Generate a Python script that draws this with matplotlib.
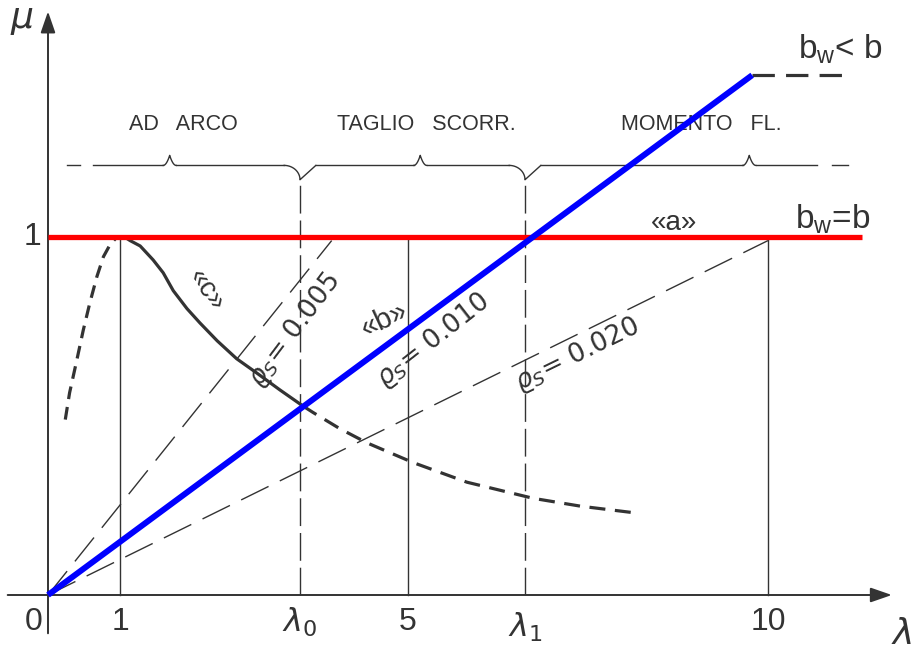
import numpy as np
import matplotlib
matplotlib.use("Agg")
import matplotlib.pyplot as plt

# ---- data (lambda, mu) ----
lam0 = 3.5
lam1 = 6.625

# curve "c": left dashed rise, solid part, dashed tail
c_left_x = [0.24, 0.30, 0.40, 0.49, 0.58, 0.68, 0.77, 0.86, 0.94, 1.0]
c_left_y = [0.49, 0.565, 0.656, 0.74, 0.815, 0.89, 0.945, 0.978, 0.996, 1.0]
c_solid_x = [1.0, 1.07, 1.14, 1.28, 1.46, 1.60, 1.74, 1.93, 2.11, 2.35,
             2.62, 2.90, 3.22, 3.54]
c_solid_y = [1.0, 0.999, 0.99, 0.975, 0.936, 0.90, 0.85, 0.80, 0.76, 0.71,
             0.66, 0.62, 0.573, 0.528]
c_tail_x = [3.54, 3.68, 4.05, 4.43, 5.07, 5.82, 6.74, 7.4, 8.13]
c_tail_y = [0.528, 0.51, 0.465, 0.425, 0.37, 0.315, 0.27, 0.248, 0.23]

# line "a" (b_w = b) and line "b" (rho_s = 0.010)
a_x = [0.0, 11.3]
a_y = [1.0, 1.0]
b_x = [0.0, 9.78]
b_y = [0.0, 1.452]
bw_less_x = [9.78, 11.1]
bw_less_y = [1.452, 1.452]

# rho_s = 0.005 and 0.020 dashed lines
r005_x = [0.0, 3.94]
r005_y = [0.0, 0.99]
r020_x = [0.0, 10.0]
r020_y = [0.0, 0.99]

# vertical reference lines
vsolid = [1.0, 5.0, 10.0]
vdash = [lam0, lam1]

xticks = [0, 1, lam0, 5, lam1, 10]
xticklabels = ["0", "1", r"$\lambda_0$", "5", r"$\lambda_1$", "10"]

# brace bar
brace_y = 1.2
cusps = [1.69, 5.17, 9.74]
joints = [lam0, lam1]
regions = ["AD   ARCO", "TAGLIO   SCORR.", "MOMENTO   FL."]
region_x = [1.88, 5.25, 9.07]

font = ["Liberation Sans Narrow", "Liberation Sans", "DejaVu Sans"]
ink = "#333333"

fig = plt.figure(figsize=(9.15, 6.5), dpi=100)
ax = fig.add_axes([0, 0, 1, 1])
ax.set_xlim(-48 / 72, 867 / 72)
ax.set_ylim(-55 / 358, 595 / 358)
ax.axis("off")

# axes arrows
ax.annotate("", xy=(11.72, 0), xytext=(-0.56, 0),
            arrowprops=dict(arrowstyle="-|>,head_length=1.3,head_width=0.45",
                            color=ink, lw=1.4, shrinkA=0, shrinkB=0))
ax.annotate("", xy=(0, 1.63), xytext=(0, -0.107),
            arrowprops=dict(arrowstyle="-|>,head_length=1.3,head_width=0.45",
                            color=ink, lw=1.4, shrinkA=0, shrinkB=0))

# vertical lines
for xv in vsolid:
    ax.plot([xv, xv], [0, 1.0], color=ink, lw=1.0)
for xv in vdash:
    ax.plot([xv, xv], [0, 1.16], color=ink, lw=1.0, dashes=(20, 5))

# rho lines
ax.plot(r005_x, r005_y, color=ink, lw=1.0, dashes=(22, 9))
ax.plot(r020_x, r020_y, color=ink, lw=1.0, dashes=(22, 9))

# curve c
ax.plot(c_left_x, c_left_y, color=ink, lw=2.3, dashes=(4, 2.5))
ax.plot(c_solid_x, c_solid_y, color=ink, lw=2.3, solid_joinstyle="round")
ax.plot(c_tail_x, c_tail_y, color=ink, lw=2.3, dashes=(5, 3))

# red and blue lines
ax.plot(a_x, a_y, color="#ff0000", lw=3.8, solid_capstyle="butt", zorder=5)
ax.plot(b_x, b_y, color="#0000ff", lw=4.3, solid_capstyle="butt", zorder=6)
ax.plot(bw_less_x, bw_less_y, color=ink, lw=2.3, dashes=(7, 3.5))

# brace bar
ax.plot([0.26, 0.44], [brace_y, brace_y], color=ink, lw=1.0)
ax.plot([10.89, 11.11], [brace_y, brace_y], color=ink, lw=1.0)
segs = [0.625] + sorted(cusps + joints) + [10.68]
kinds = ["s"] + ["c" if v in cusps else "j" for v in sorted(cusps + joints)] + ["e"]
w_c, w_j = 0.09, 0.22
for i in range(len(segs) - 1):
    x0 = segs[i] + (w_c if kinds[i] == "c" else w_j if kinds[i] == "j" else 0)
    x1 = segs[i + 1] - (w_c if kinds[i + 1] == "c" else w_j if kinds[i + 1] == "j" else 0)
    ax.plot([x0, x1], [brace_y, brace_y], color=ink, lw=1.0)
t = np.linspace(0, 1, 20)
for xc in cusps:
    xs = np.concatenate([xc - w_c + w_c * t, xc + w_c * t])
    ys = np.concatenate([brace_y + 0.028 * t ** 2, brace_y + 0.028 * (1 - t) ** 2])
    ax.plot(xs, ys, color=ink, lw=1.0)
for xj in joints:
    xs = np.concatenate([xj - w_j + w_j * np.sin(t * np.pi / 2),
                         xj + w_j * (1 - np.cos(t * np.pi / 2))])
    ys = np.concatenate([brace_y - 0.04 * (1 - np.cos(t * np.pi / 2)),
                         brace_y - 0.04 * np.cos(t * np.pi / 2)])
    ax.plot(xs, ys, color=ink, lw=1.0)

for lab, xr in zip(regions, region_x):
    ax.text(xr, 1.315, lab, ha="center", va="center", fontsize=15.5,
            family=font, color=ink)

# tick labels
for xt, lab in zip(xticks, xticklabels):
    dx = -0.2 if xt == 0 else 0
    dy = -0.09 if xt == lam1 else -0.075
    ax.text(xt + dx, dy, lab, ha="center", va="center", fontsize=23,
            family=font, color=ink)
ax.text(-0.22, 1.0, "1", ha="center", va="center", fontsize=23,
        family=font, color=ink)
ax.text(-0.36, 1.605, r"$\mu$", ha="center", va="center", fontsize=26,
        color=ink, fontweight="bold")
ax.text(11.85, -0.11, r"$\lambda$", ha="center", va="center", fontsize=26,
        color=ink)

# curve annotations
ax.text(8.7, 1.04, "«a»", ha="center", va="center", fontsize=20,
        family=font, color=ink)
ax.text(10.9, 1.05, r"b$_\mathregular{w}$=b", ha="center", va="center",
        fontsize=24, family=font, color=ink)
ax.text(11.0, 1.525, r"b$_\mathregular{w}$< b", ha="center", va="center",
        fontsize=24, family=font, color=ink)
ax.text(2.2, 0.85, "«c»", ha="center", va="center", fontsize=20,
        family=font, color=ink, rotation=-55)
ax.text(4.67, 0.77, "«b»", ha="center", va="center", fontsize=21,
        family=font, color=ink, rotation=25)
ax.text(3.42, 0.74, r"$\varrho_S$= 0.005", ha="center", va="center",
        fontsize=19, color=ink, rotation=53)
ax.text(5.35, 0.71, r"$\varrho_S$= 0.010", ha="center", va="center",
        fontsize=19, color=ink, rotation=38)
ax.text(7.35, 0.67, r"$\varrho_S$= 0.020", ha="center", va="center",
        fontsize=19, color=ink, rotation=26)

fig.savefig("out.png", dpi=100)
